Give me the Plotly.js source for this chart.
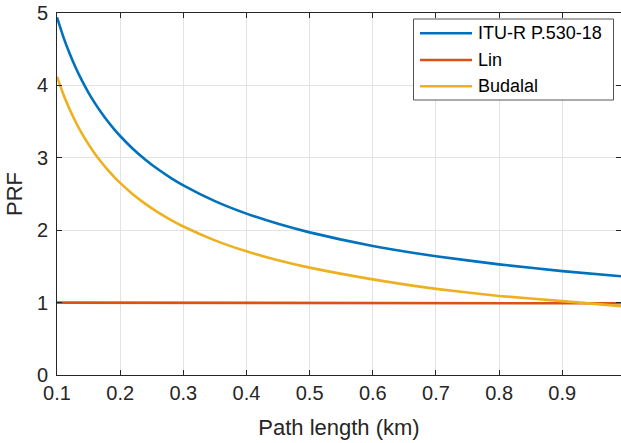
<!DOCTYPE html>
<html>
<head>
<meta charset="utf-8">
<script src="https://cdn.plot.ly/plotly-3.0.1.min.js"></script>
<style>html,body{margin:0;padding:0;background:#fff;}#chart{width:621px;height:443px;}</style>
</head>
<body>
<div id="chart"></div>
<script>
// Path length (km)
var pathLength = [0.1, 0.11, 0.12, 0.13, 0.14, 0.15, 0.16, 0.17, 0.18, 0.19, 0.2, 0.22, 0.24, 0.26, 0.28, 0.3, 0.35, 0.4, 0.45, 0.5, 0.6, 0.7, 0.8, 0.9, 0.993];
// PRF values
var ituR = [4.94, 4.671, 4.440, 4.237, 4.058, 3.898, 3.755, 3.626, 3.508, 3.400, 3.301, 3.126, 2.974, 2.841, 2.724, 2.620, 2.402, 2.229, 2.088, 1.970, 1.783, 1.641, 1.528, 1.435, 1.363];
var budalal = [4.12, 3.878, 3.670, 3.488, 3.327, 3.185, 3.057, 2.942, 2.836, 2.741, 2.653, 2.497, 2.363, 2.246, 2.143, 2.051, 1.860, 1.708, 1.585, 1.483, 1.321, 1.190, 1.092, 1.021, 0.952];
var linX = [0.1, 0.5, 0.993];
var lin = [1.0, 0.995, 0.99];
var seriesNames = ["ITU-R P.530-18", "Lin", "Budalal"];
var seriesColors = ['#0072BD', '#D95319', '#EDB120'];
var xTicks = [0.1, 0.2, 0.3, 0.4, 0.5, 0.6, 0.7, 0.8, 0.9];
var yTicks = [0, 1, 2, 3, 4, 5];

var traces = [
  {x: pathLength, y: ituR, name: seriesNames[0], mode: 'lines', line: {color: seriesColors[0], width: 2.6, shape: 'spline', smoothing: 0.5}},
  {x: linX, y: lin, name: seriesNames[1], mode: 'lines', line: {color: seriesColors[1], width: 2.6}},
  {x: pathLength, y: budalal, name: seriesNames[2], mode: 'lines', line: {color: seriesColors[2], width: 2.6, shape: 'spline', smoothing: 0.5}}
];

var M = {l: 57, r: 0, t: 13, b: 68}, W = 621, H = 443;
function px(v){ return (v - M.l) / (W - M.l - M.r); }
function py(v){ return (H - M.b - v) / (H - M.t - M.b); }

var font = 'Liberation Sans, Arial, sans-serif';
var axisCommon = {
  showline: true, linecolor: '#262626', linewidth: 1, mirror: 'ticks',
  ticks: 'inside', ticklen: 5, tickcolor: '#262626', tickwidth: 1,
  showgrid: true, gridcolor: '#e3e3e3', gridwidth: 1, zeroline: false,
  tickfont: {family: font, size: 20, color: '#262626'}
};

// custom legend (MATLAB style)
var legendRows = [33.3, 60, 86.3];
var shapes = [{type: 'rect', xref: 'paper', yref: 'paper', x0: px(413.5), x1: px(613.5), y0: py(100), y1: py(19),
  fillcolor: '#ffffff', line: {color: '#555555', width: 1}, layer: 'above'}];
var annotations = [];
seriesNames.forEach(function(n, i){
  shapes.push({type: 'line', xref: 'paper', yref: 'paper', x0: px(420), x1: px(472), y0: py(legendRows[i]), y1: py(legendRows[i]),
    line: {color: seriesColors[i], width: 2.6}, layer: 'above'});
  annotations.push({xref: 'paper', yref: 'paper', x: px(476), y: py(legendRows[i]), xanchor: 'left', yanchor: 'middle',
    text: n, showarrow: false, font: {family: font, size: 18, color: '#000000'}});
});

var layout = {
  width: W, height: H,
  margin: M,
  paper_bgcolor: '#ffffff', plot_bgcolor: '#ffffff',
  showlegend: false,
  shapes: shapes,
  annotations: annotations,
  xaxis: Object.assign({}, axisCommon, {
    range: [0.1, 0.993], tickvals: xTicks, ticktext: xTicks.map(function(v){return v.toFixed(1);}),
    title: {text: 'Path length (km)', font: {family: font, size: 22, color: '#262626'}, standoff: 16}
  }),
  yaxis: Object.assign({}, axisCommon, {
    range: [0, 5], tickvals: yTicks, ticktext: yTicks.map(String),
    ticklabelstandoff: 4,
    title: {text: 'PRF', font: {family: font, size: 22, color: '#262626'}, standoff: 8}
  })
};

Plotly.newPlot('chart', traces, layout, {displayModeBar: false, staticPlot: true});
</script>
</body>
</html>
